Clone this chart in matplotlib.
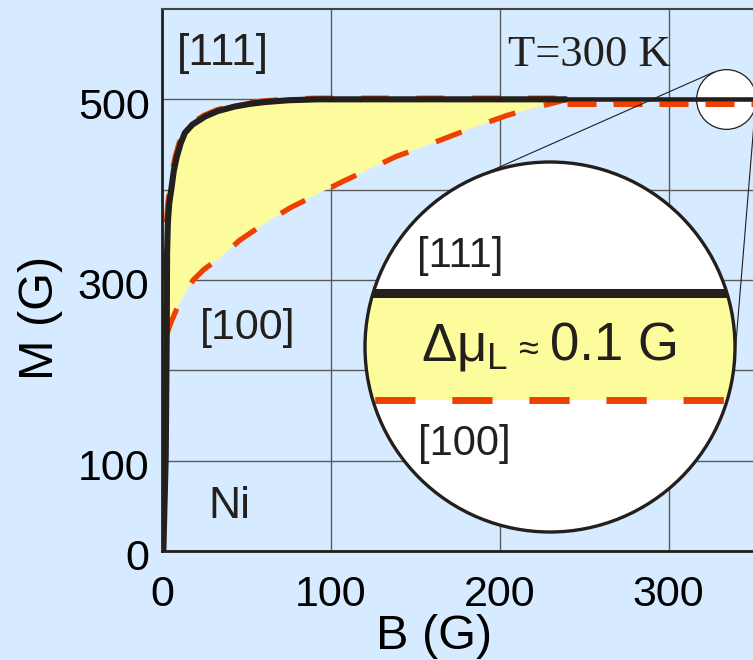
import numpy as np
import matplotlib
matplotlib.use("Agg")
import matplotlib.pyplot as plt
from matplotlib.patches import Circle
from matplotlib.lines import Line2D
from matplotlib import transforms
from matplotlib.offsetbox import TextArea, HPacker, AnchoredOffsetbox

# ---- data -------------------------------------------------------------
# magnetisation curve along the easy [111] axis
B_111 = [0.8, 2.2, 2.8, 3.0, 3.5, 4.3, 5.7, 7.0, 8.7, 11, 13.6, 18, 25.5,
         33, 43, 52, 61, 75, 92, 240]
M_111 = [0, 104, 240, 330, 365, 385, 403, 421, 436, 451, 463, 472, 481,
         487, 492, 495, 497, 499, 500, 500]
# magnetisation curve along the hard [100] axis
B_100 = [2.8, 5.5, 8.5, 12, 18.5, 25, 34, 46, 61, 76, 92, 107, 123, 139,
         154, 172, 186, 204, 219, 232, 240]
M_100 = [240, 254, 267, 280, 300, 312, 324, 344, 363, 380, 395, 409, 423,
         437, 447, 460, 470, 482, 490, 496, 500]
M_SAT = 500          # saturation magnetisation (G)
B_MAX = 350          # end of the field axis (G)
ZOOM_B = 334         # field where the magnified view is taken (G)
DELTA_M = 0.1        # residual difference between the two axes (G)

x_ticks = [0, 100, 200, 300]
y_ticks = [0, 100, 300, 500]
y_minor = [200, 400]

# ---- style ------------------------------------------------------------
BG = "#D6EBFF"
YELLOW = "#FCFC9C"
RED = "#EE4000"
INK = "#231F1C"
GRID = "#5A5A5A"

plt.rcParams["font.family"] = ["Liberation Sans", "DejaVu Sans"]
plt.rcParams["mathtext.fontset"] = "custom"
plt.rcParams["mathtext.rm"] = "Liberation Sans"
plt.rcParams["mathtext.it"] = "Liberation Sans"

W, H, DPI = 753, 660, 100
fig = plt.figure(figsize=(W / DPI, H / DPI), dpi=DPI, facecolor=BG)
ax = fig.add_axes([162 / W, 109 / H, 591 / W, 542 / H])
ax.set_facecolor(BG)
ax.set_xlim(0, B_MAX)
ax.set_ylim(0, 600)

ax.set_xticks(x_ticks)
ax.set_yticks(y_ticks)
ax.set_yticks(y_minor, minor=True)
ax.grid(which="both", color=GRID, lw=1.0, zorder=0)
ax.set_axisbelow(True)
ax.tick_params(which="both", length=0)
ax.tick_params(axis="y", labelsize=31, pad=9)
ax.tick_params(axis="x", labelsize=31, pad=17)
ydrop = transforms.ScaledTranslation(0, -4 / DPI, fig.dpi_scale_trans)
for lab in ax.get_yticklabels():
    lab.set_transform(lab.get_transform() + ydrop)

for side in ("left", "bottom"):
    ax.spines[side].set_color(INK)
    ax.spines[side].set_linewidth(2.0)
ax.spines["top"].set_color("#444444")
ax.spines["top"].set_linewidth(1.5)
ax.spines["right"].set_visible(False)

ax.set_xlabel("B (G)", fontsize=35)
ax.xaxis.set_label_coords(0.46, -0.157)
ax.xaxis.label.set_va("center")
ax.set_ylabel("M (G)", fontsize=35)
ax.yaxis.set_label_coords(-0.206, 0.43)
ax.yaxis.label.set_va("center")

# ---- main curves ------------------------------------------------------
B_111 = np.asarray(B_111, float)
M_111 = np.asarray(M_111, float)
B_100 = np.asarray(B_100, float)
M_100 = np.asarray(M_100, float)

upper = M_111 >= M_100[0]
poly_B = np.r_[B_111[upper], B_100[::-1]]
poly_M = np.r_[M_111[upper], M_100[::-1]]
ax.fill(poly_B, poly_M, color=YELLOW, lw=0, zorder=1)

# dashed outline of the [100] region peeking out along the [111] curve
shift = transforms.offset_copy(ax.transData, fig=fig, x=-1.2, y=1.0,
                               units="dots")
ax.plot(B_111[upper], M_111[upper], color=RED, lw=4.0, dashes=(5, 5),
        transform=shift, zorder=2)
ax.plot(B_100, M_100, color=RED, lw=3.8, dashes=(5.2, 5.6), zorder=3)

# saturated part beyond the fill
low = transforms.offset_copy(ax.transData, fig=fig, x=0, y=-4.5, units="dots")
ax.plot([B_111[-1], B_MAX], [M_SAT, M_SAT], color=RED, lw=3.6,
        dashes=(5.8, 3.4), transform=low, zorder=4)
ax.plot([B_111[-1], B_MAX], [M_SAT, M_SAT], color=INK, lw=3.3, zorder=5)
ax.plot(B_111, M_111, color=INK, lw=4.4, zorder=6,
        solid_capstyle="butt", solid_joinstyle="round")

# small lens marking the magnified spot
LENS_MS = 43
ax.plot([ZOOM_B], [M_SAT], "o", ms=LENS_MS, mfc="white", mec=INK, mew=0.9,
        zorder=3.5)

# labels
ax.text(36, 551, "[111]", fontsize=32, ha="center", va="center", color=INK)
ax.text(51, 247, "[100]", fontsize=31, ha="center", va="center", color=INK)
ax.text(40, 49, "Ni", fontsize=32, ha="center", va="center", color=INK)
ax.text(253, 549, "T=300 K", fontsize=32, ha="center", va="center",
        family="Liberation Serif", color=INK)

# ---- magnified view ---------------------------------------------------
R_PX = 185
CX, CY = 550, 347
iax = fig.add_axes([(CX - R_PX) / W, (H - CY - R_PX) / H,
                    2 * R_PX / W, 2 * R_PX / H])
iax.set_axis_off()
iax.patch.set_visible(False)
# vertical layout of the magnified view: [111] level at 64.6 %, [100] at 35.7 %
frac_hi, frac_lo = 0.646, 0.357
span = DELTA_M / (frac_hi - frac_lo)
y_lo = (M_SAT - DELTA_M) - frac_lo * span
iax.set_ylim(y_lo, y_lo + span)
iax.set_xlim(ZOOM_B - 5, ZOOM_B + 5)

disc = Circle((0.5, 0.5), 0.5, transform=iax.transAxes, facecolor="white",
              edgecolor="none", zorder=0)
iax.add_patch(disc)
xs = [ZOOM_B - 5, ZOOM_B + 5]
band = iax.fill_between(xs, M_SAT - DELTA_M, M_SAT, color=YELLOW, lw=0,
                        zorder=1)
band.set_clip_path(disc)
hi_line, = iax.plot(xs, [M_SAT, M_SAT], color=INK, lw=6.5, zorder=3,
                    solid_capstyle="butt")
hi_line.set_clip_path(disc)
lo_line, = iax.plot(xs, [M_SAT - DELTA_M] * 2, color=RED, lw=5.0, zorder=2,
                    ls=(9.7, (5.8, 5.3)))
lo_line.set_clip_path(disc)
rim = Circle((0.5, 0.5), 0.5, transform=iax.transAxes, facecolor="none",
             edgecolor=INK, lw=2.4, zorder=5, clip_on=False)
iax.add_patch(rim)

iax.text(0.257, 0.746, "[111]", transform=iax.transAxes, fontsize=30,
         ha="center", va="center", color=INK)
iax.text(0.268, 0.238, "[100]", transform=iax.transAxes, fontsize=30,
         ha="center", va="center", color=INK)

# "Δμ_L ≈ 0.1 G" with a smaller approx sign
parts = [TextArea(r"$\Delta\mu_\mathrm{L}$",
                  textprops=dict(fontsize=38, color=INK)),
         TextArea("\u2248", textprops=dict(fontsize=26, color=INK)),
         TextArea("0.1 G", textprops=dict(fontsize=38, color=INK))]
row = HPacker(children=parts, align="baseline", pad=0, sep=8)
box = AnchoredOffsetbox(loc="center", child=row, frameon=False,
                        bbox_to_anchor=(0.5, 0.50),
                        bbox_transform=iax.transAxes, borderpad=0)
box.set_zorder(6)
iax.add_artist(box)

# ---- outer tangents linking the lens to the magnified view -------------
c1 = ax.transData.transform((ZOOM_B, M_SAT))
r1 = LENS_MS / 2 * DPI / 72
c2 = iax.transAxes.transform((0.5, 0.5))
r2 = iax.transAxes.transform((1.0, 0.5))[0] - c2[0]
d = c2 - c1
D = np.hypot(*d)
u = d / D
v = np.array([-u[1], u[0]])
a = (r2 - r1) / D
b = np.sqrt(1 - a * a)
for sgn in (1, -1):
    n = a * u + sgn * b * v
    p1 = c1 - r1 * n
    p2 = c2 - r2 * n
    fig.add_artist(Line2D([p1[0], p2[0]], [p1[1], p2[1]], color=INK, lw=0.8,
                          transform=transforms.IdentityTransform(),
                          zorder=3))

fig.savefig("out.png", dpi=DPI, facecolor=BG)
